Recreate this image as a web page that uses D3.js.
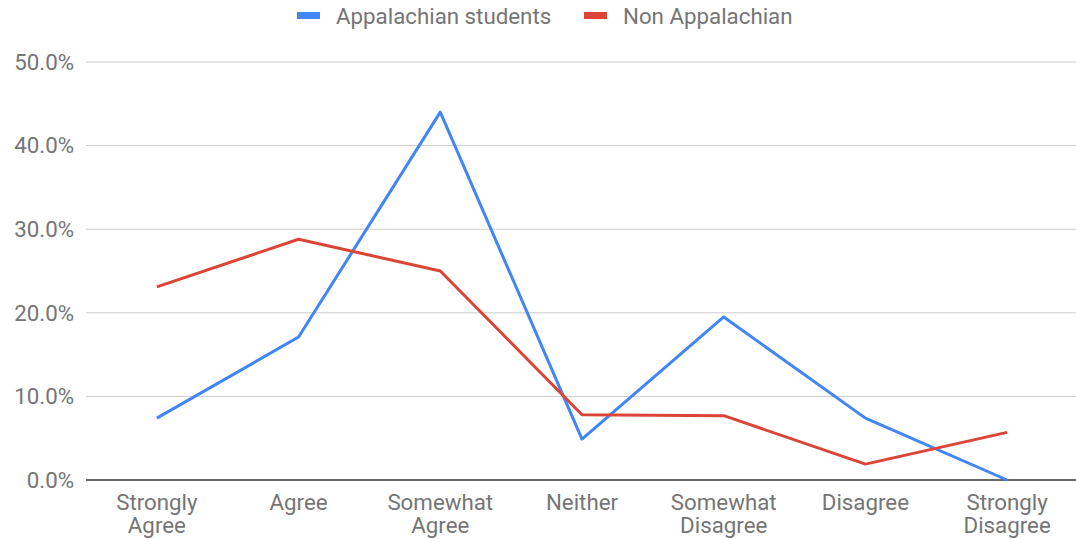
<!DOCTYPE html>
<html><head><meta charset="utf-8">
<script src="https://cdn.jsdelivr.net/npm/d3@7"></script>
<style>body{margin:0;background:#fff}svg{display:block}</style>
</head><body>
<svg id="c" width="1076" height="539"></svg>
<script>
const categories = [["Strongly","Agree"],["Agree"],["Somewhat","Agree"],["Neither"],["Somewhat","Disagree"],["Disagree"],["Strongly","Disagree"]];
const appalachian = [7.4, 17.1, 44.0, 4.9, 19.5, 7.4, 0.0];
const nonAppalachian = [23.1, 28.8, 25.0, 7.8, 7.7, 1.9, 5.7];
const yTicks = [0, 10, 20, 30, 40, 50];
const seriesNames = ["Appalachian students", "Non Appalachian"];
const colors = ["#4285f4", "#db4437"];

(function(){
const svg = d3.select("#c");
const font = "Roboto, sans-serif";
const fs = 22.3;
const pL = 86, pR = 1078, pT = 62, pB = 480;
const x = d3.scalePoint().domain(d3.range(categories.length)).range([pL, pR]).padding(0.5);
const y = d3.scaleLinear().domain([0, 50]).range([pB, pT]);

svg.append("g").selectAll("line").data(yTicks.filter(d => d > 0)).join("line")
  .attr("x1", pL).attr("x2", 1076).attr("y1", d => y(d)).attr("y2", d => y(d))
  .attr("stroke", "#cccccc").attr("stroke-width", 1);

svg.append("g").selectAll("text").data(yTicks).join("text")
  .attr("x", 74).attr("y", d => y(d)).attr("dy", "0.35em")
  .attr("text-anchor", "end").attr("font-family", font).attr("font-size", fs)
  .attr("fill", "#757575").text(d => d.toFixed(1) + "%");

svg.append("line").attr("x1", pL).attr("x2", 1076).attr("y1", pB).attr("y2", pB)
  .attr("stroke", "#333333").attr("stroke-width", 1.5);

const xl = svg.append("g").selectAll("text").data(categories).join("text")
  .attr("x", (d, i) => x(i)).attr("y", 510)
  .attr("text-anchor", "middle").attr("font-family", font).attr("font-size", fs)
  .attr("fill", "#757575");
xl.selectAll("tspan").data(d => d).join("tspan")
  .attr("x", function(){ return this.parentNode.getAttribute("x"); })
  .attr("dy", (d, i) => i === 0 ? 0 : 22.5).text(d => d);

const line = d3.line().x((d, i) => x(i)).y(d => y(d));
[appalachian, nonAppalachian].forEach((s, k) => {
  svg.append("path").datum(s).attr("d", line).attr("fill", "none")
    .attr("stroke", colors[k]).attr("stroke-width", 3).attr("stroke-linejoin", "round");
});

const legX = [297, 584];
seriesNames.forEach((n, k) => {
  svg.append("rect").attr("x", legX[k]).attr("y", 12).attr("width", 23).attr("height", 7)
    .attr("fill", colors[k]);
  svg.append("text").attr("x", legX[k] + 39).attr("y", 16).attr("dy", "0.35em")
    .attr("font-family", font).attr("font-size", fs).attr("fill", "#757575").text(n);
});
})();
</script>
</body></html>
